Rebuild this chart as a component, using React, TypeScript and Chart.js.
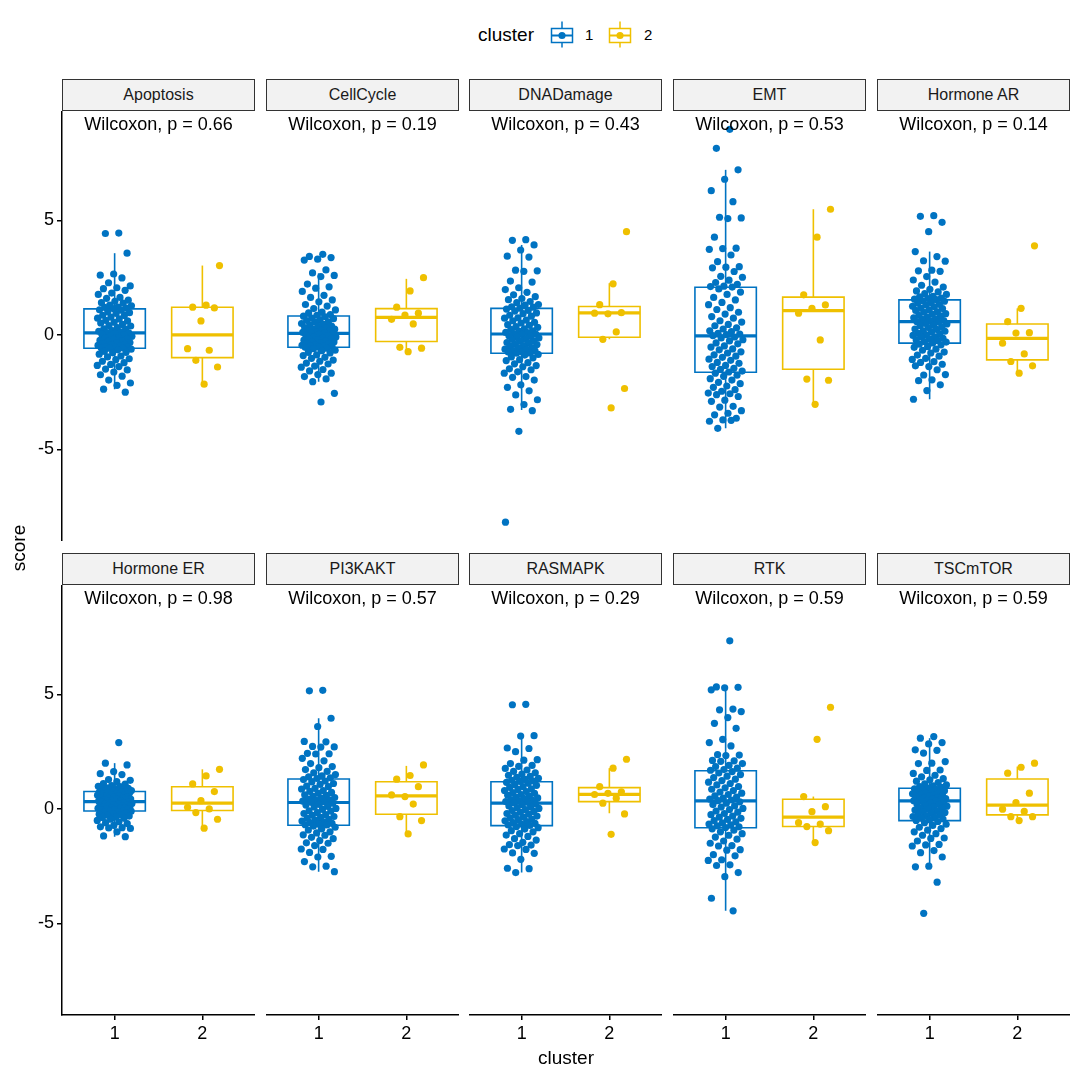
import React, { useEffect, useRef } from "react";
import { Chart, registerables } from "chart.js";

Chart.register(...registerables);

// ---------------- data ----------------
const PANELS = ["Apoptosis", "CellCycle", "DNADamage", "EMT", "Hormone AR", "Hormone ER", "PI3KAKT", "RASMAPK", "RTK", "TSCmTOR"];
const P_VALUES = ["0.66", "0.19", "0.43", "0.53", "0.14", "0.98", "0.57", "0.29", "0.59", "0.59"];
const CLUSTERS = ["1", "2"];
const X_TICKS = [1, 2];
const Y_TICKS = [-5, 0, 5];

const C1_APOPTOSIS = [4.45, 4.43, 3.57, 2.66, 2.61, 2.49, 2.28, 2.14, 2.06, 2.02, 1.95, 1.83, 1.77, 1.64, 1.6, 1.52, 1.47, 1.41, 1.39, 1.3, 1.27, 1.22, 1.2, 1.17, 1.15,
  1.1, 1.08, 1.01, 0.97, 0.94, 0.86, 0.85, 0.78, 0.73, 0.7, 0.64, 0.61, 0.55, 0.52, 0.46, 0.41, 0.39, 0.32, 0.27, 0.25, 0.19, 0.16, 0.13, 0.1, 0.09,
  0.07, 0.02, 0.0, -0.05, -0.06, -0.12, -0.14, -0.17, -0.19, -0.24, -0.27, -0.28, -0.33, -0.34, -0.38, -0.41, -0.44, -0.46, -0.47, -0.51, -0.53, -0.54, -0.56, -0.57, -0.58,
  -0.62, -0.65, -0.72, -0.76, -0.78, -0.84, -0.92, -0.96, -1.04, -1.08, -1.15, -1.21, -1.29, -1.33, -1.38, -1.49, -1.53, -1.62, -1.74, -1.8, -1.97, -2.1, -2.2, -2.37, -2.5];
const C1_CELLCYCLE = [3.52, 3.43, 3.38, 3.31, 3.27, 2.84, 2.71, 2.6, 2.55, 2.22, 2.1, 2.04, 1.9, 1.73, 1.64, 1.53, 1.45, 1.33, 1.26, 1.15, 1.09, 1.0, 0.96, 0.89, 0.86,
  0.82, 0.79, 0.73, 0.71, 0.65, 0.63, 0.57, 0.56, 0.5, 0.46, 0.44, 0.39, 0.37, 0.32, 0.31, 0.26, 0.25, 0.2, 0.18, 0.17, 0.12, 0.11, 0.08, 0.07,
  0.04, 0.03, -0.02, -0.03, -0.08, -0.09, -0.13, -0.16, -0.17, -0.22, -0.23, -0.27, -0.3, -0.31, -0.36, -0.38, -0.39, -0.43, -0.45, -0.47, -0.49, -0.51, -0.53, -0.54,
  -0.58, -0.6, -0.67, -0.69, -0.76, -0.79, -0.87, -0.9, -0.98, -1.02, -1.1, -1.15, -1.23, -1.27, -1.36, -1.41, -1.51, -1.57, -1.67, -1.73, -1.82, -1.92, -2.04, -2.55, -2.93];
const C1_DNADAMAGE = [4.16, 4.13, 3.93, 3.71, 3.44, 3.4, 2.83, 2.8, 2.78, 2.35, 2.31, 2.06, 1.98, 1.86, 1.75, 1.67, 1.59, 1.54, 1.46, 1.41, 1.33, 1.3, 1.23, 1.21, 1.17,
  1.13, 1.07, 1.04, 0.96, 0.93, 0.86, 0.82, 0.75, 0.73, 0.65, 0.62, 0.55, 0.52, 0.45, 0.42, 0.36, 0.33, 0.27, 0.24, 0.18, 0.16, 0.11, 0.1, 0.06, 0.04,
  0.02, -0.04, -0.06, -0.11, -0.13, -0.19, -0.2, -0.26, -0.28, -0.33, -0.35, -0.41, -0.42, -0.48, -0.49, -0.55, -0.56, -0.62, -0.63, -0.68, -0.69, -0.74, -0.75, -0.79, -0.8,
  -0.85, -0.88, -0.96, -1.0, -1.08, -1.12, -1.21, -1.26, -1.34, -1.39, -1.48, -1.52, -1.61, -1.67, -1.82, -1.85, -1.97, -2.18, -2.29, -2.44, -2.62, -2.83, -3.04, -3.25, -3.31, -4.21, -8.18];
const C1_EMT = [8.98, 8.15, 7.21, 6.8, 6.3, 5.82, 5.14, 5.11, 5.08, 4.27, 3.79, 3.77, 3.74, 3.49, 3.2, 2.98, 2.96, 2.93, 2.77, 2.56, 2.52, 2.39, 2.29, 2.21, 2.13, 2.11, 2.09,
  2.01, 1.87, 1.77, 1.64, 1.53, 1.42, 1.32, 1.19, 1.11, 0.99, 0.91, 0.8, 0.73, 0.62, 0.56, 0.46, 0.4, 0.31, 0.26, 0.18, 0.14, 0.07, 0.04, 0.01, -0.03,
  -0.09, -0.13, -0.21, -0.26, -0.35, -0.39, -0.48, -0.53, -0.61, -0.65, -0.74, -0.79, -0.87, -0.93, -0.98, -1.06, -1.11, -1.2, -1.24, -1.33, -1.38, -1.46, -1.5, -1.58, -1.62,
  -1.67, -1.76, -1.81, -1.91, -1.97, -2.07, -2.13, -2.23, -2.29, -2.39, -2.46, -2.54, -2.57, -2.61, -2.69, -2.85, -2.9, -3.12, -3.15, -3.31, -3.42, -3.49, -3.64, -3.71, -3.77, -3.73, -4.08];
const C1_HORMONE_AR = [5.21, 5.18, 4.92, 4.51, 3.64, 3.42, 3.24, 3.22, 2.83, 2.8, 2.78, 2.55, 2.4, 2.31, 2.17, 2.09, 1.99, 1.92, 1.88, 1.8, 1.77, 1.69, 1.66, 1.61, 1.59, 1.56, 1.54,
  1.49, 1.47, 1.41, 1.39, 1.33, 1.31, 1.25, 1.23, 1.17, 1.15, 1.09, 1.07, 1.01, 0.99, 0.93, 0.91, 0.86, 0.83, 0.77, 0.75, 0.7, 0.68, 0.63, 0.61, 0.58,
  0.56, 0.5, 0.48, 0.42, 0.4, 0.34, 0.32, 0.26, 0.24, 0.18, 0.16, 0.13, 0.07, 0.05, 0.0, -0.02, -0.08, -0.09, -0.15, -0.17, -0.22, -0.24, -0.29, -0.31, -0.35,
  -0.4, -0.43, -0.51, -0.54, -0.62, -0.67, -0.75, -0.79, -0.88, -0.93, -1.02, -1.07, -1.17, -1.2, -1.28, -1.38, -1.35, -1.52, -1.75, -1.73, -1.96, -2.0, -2.18, -2.43, -2.81];
const C1_HORMONE_ER = [2.9, 2.0, 1.92, 1.63, 1.54, 1.5, 1.28, 1.25, 1.19, 1.11, 1.08, 1.02, 0.99, 0.97, 0.92, 0.9, 0.89, 0.85, 0.84, 0.82, 0.8, 0.79, 0.78, 0.77, 0.77,
  0.75, 0.73, 0.71, 0.7, 0.67, 0.66, 0.63, 0.61, 0.6, 0.57, 0.56, 0.53, 0.51, 0.5, 0.47, 0.46, 0.43, 0.42, 0.4, 0.38, 0.37, 0.35, 0.34, 0.33, 0.32,
  0.31, 0.29, 0.27, 0.26, 0.24, 0.22, 0.21, 0.19, 0.18, 0.16, 0.14, 0.13, 0.11, 0.09, 0.08, 0.06, 0.05, 0.03, 0.02, 0.0, -0.01, -0.03, -0.05, -0.07, -0.08,
  -0.1, -0.12, -0.15, -0.17, -0.2, -0.23, -0.25, -0.28, -0.31, -0.35, -0.37, -0.41, -0.45, -0.5, -0.56, -0.6, -0.64, -0.72, -0.78, -0.82, -0.83, -0.85, -1.0, -1.18, -1.21];
const C1_PI3KAKT = [5.18, 5.16, 3.96, 3.6, 2.95, 2.93, 2.73, 2.71, 2.7, 2.43, 2.41, 2.4, 2.21, 2.1, 1.98, 1.85, 1.8, 1.72, 1.64, 1.58, 1.5, 1.45, 1.4, 1.36, 1.33,
  1.28, 1.22, 1.18, 1.11, 1.07, 1.0, 0.97, 0.9, 0.87, 0.8, 0.77, 0.72, 0.68, 0.62, 0.59, 0.55, 0.5, 0.47, 0.43, 0.4, 0.37, 0.34, 0.31, 0.29,
  0.25, 0.2, 0.17, 0.11, 0.08, 0.02, -0.02, -0.08, -0.1, -0.16, -0.2, -0.25, -0.28, -0.33, -0.37, -0.41, -0.45, -0.49, -0.53, -0.56, -0.6, -0.63, -0.66, -0.69, -0.7,
  -0.75, -0.8, -0.87, -0.92, -1.0, -1.05, -1.13, -1.15, -1.24, -1.3, -1.38, -1.48, -1.5, -1.6, -1.75, -1.77, -1.9, -2.07, -2.1, -2.3, -2.5, -2.53, -2.74];
const C1_RASMAPK = [4.57, 4.55, 3.2, 3.18, 2.66, 2.64, 2.5, 2.15, 2.13, 1.98, 1.9, 1.86, 1.77, 1.7, 1.64, 1.58, 1.52, 1.47, 1.42, 1.38, 1.34, 1.29, 1.25, 1.22, 1.2,
  1.16, 1.12, 1.06, 1.03, 0.97, 0.94, 0.88, 0.85, 0.8, 0.76, 0.71, 0.68, 0.63, 0.6, 0.56, 0.52, 0.48, 0.45, 0.41, 0.38, 0.35, 0.32, 0.29, 0.26,
  0.22, 0.18, 0.13, 0.1, 0.05, 0.02, -0.03, -0.07, -0.11, -0.15, -0.2, -0.23, -0.28, -0.31, -0.36, -0.39, -0.44, -0.47, -0.52, -0.55, -0.6, -0.63, -0.67, -0.7, -0.72,
  -0.77, -0.82, -0.88, -0.95, -1.0, -1.08, -1.14, -1.2, -1.3, -1.36, -1.46, -1.56, -1.58, -1.6, -1.75, -1.77, -1.92, -1.94, -2.2, -2.59, -2.61, -2.78];
const C1_RTK = [7.34, 5.33, 5.31, 5.29, 5.2, 4.36, 4.33, 4.25, 3.99, 3.74, 3.52, 3.04, 2.9, 2.75, 2.37, 2.35, 2.33, 2.12, 2.1, 2.08, 1.98, 1.9, 1.85, 1.78, 1.72, 1.69,
  1.63, 1.57, 1.5, 1.43, 1.37, 1.3, 1.24, 1.17, 1.11, 1.05, 0.98, 0.92, 0.86, 0.8, 0.74, 0.69, 0.63, 0.57, 0.52, 0.47, 0.43, 0.39, 0.36,
  0.31, 0.25, 0.19, 0.13, 0.08, 0.02, -0.03, -0.09, -0.14, -0.2, -0.25, -0.31, -0.36, -0.41, -0.46, -0.51, -0.56, -0.61, -0.66, -0.7, -0.74, -0.78, -0.81,
  -0.87, -0.93, -1.0, -1.08, -1.15, -1.23, -1.32, -1.4, -1.5, -1.6, -1.62, -1.78, -1.8, -2.0, -2.05, -2.22, -2.25, -2.44, -2.47, -2.78, -2.96, -3.9, -4.45];
const C1_TSCMTOR = [3.16, 3.09, 2.9, 2.84, 2.58, 2.56, 2.44, 2.07, 2.0, 1.98, 1.7, 1.68, 1.55, 1.47, 1.4, 1.32, 1.27, 1.21, 1.15, 1.1, 1.05, 1.01, 0.97, 0.94, 0.91,
  0.88, 0.85, 0.82, 0.79, 0.77, 0.74, 0.71, 0.68, 0.66, 0.63, 0.6, 0.58, 0.55, 0.53, 0.5, 0.48, 0.45, 0.43, 0.41, 0.39, 0.37, 0.36, 0.35,
  0.32, 0.29, 0.26, 0.22, 0.19, 0.15, 0.12, 0.08, 0.05, 0.02, -0.02, -0.05, -0.09, -0.12, -0.16, -0.19, -0.23, -0.26, -0.3, -0.33, -0.37, -0.4, -0.44, -0.47, -0.5,
  -0.55, -0.6, -0.67, -0.72, -0.8, -0.86, -0.93, -1.0, -1.08, -1.15, -1.27, -1.29, -1.4, -1.55, -1.57, -1.62, -1.82, -1.91, -2.1, -2.5, -2.53, -3.2, -4.56];

const C2_APOPTOSIS = [3.03, 1.3, 1.21, 1.18, 0.61, -0.6, -0.67, -1.11, -1.4, -2.15];
const C2_CELLCYCLE = [2.5, 1.92, 1.21, 0.95, 0.87, 0.68, 0.48, -0.54, -0.58, -0.73];
const C2_DNADAMAGE = [4.51, 2.23, 1.32, 0.97, 0.92, 0.95, 0.13, -0.19, -2.34, -3.19];
const C2_EMT = [5.49, 4.27, 1.75, 1.31, 1.16, 0.95, -0.22, -1.93, -1.98, -3.03];
const C2_HORMONE_AR = [3.89, 1.16, 0.58, 0.1, 0.08, -0.36, -0.83, -1.16, -1.35, -1.67];
const C2_HORMONE_ER = [1.73, 1.44, 1.09, 0.76, 0.36, 0.07, 0.0, -0.16, -0.45, -0.84];
const C2_PI3KAKT = [1.92, 1.46, 1.3, 0.97, 0.54, 0.61, 0.21, -0.34, -0.51, -1.09];
const C2_RASMAPK = [2.17, 1.78, 0.97, 0.75, 0.68, 0.63, 0.47, 0.25, -0.22, -1.11];
const C2_RTK = [4.44, 3.04, 0.54, 0.1, -0.12, -0.6, -0.66, -0.77, -0.95, -1.47];
const C2_TSCMTOR = [2.0, 1.82, 1.56, 0.69, 0.28, -0.01, -0.11, -0.34, -0.34, -0.51];

// box statistics per panel (lower whisker, Q1, median, Q3, upper whisker)
const BOX1_LO = [-2.37, -2.04, -3.28, -4.08, -2.81, -1.21, -2.74, -2.78, -4.45, -2.52];
const BOX1_Q1 = [-0.58, -0.54, -0.8, -1.63, -0.36, -0.09, -0.71, -0.73, -0.82, -0.51];
const BOX1_MED = [0.09, 0.07, 0.04, -0.04, 0.58, 0.32, 0.28, 0.25, 0.35, 0.35];
const BOX1_Q3 = [1.14, 0.83, 1.16, 2.08, 1.53, 0.76, 1.31, 1.19, 1.67, 0.9];
const BOX1_HI = [3.57, 2.69, 3.93, 7.21, 3.64, 2.0, 3.96, 3.19, 5.31, 3.09];
const BOX2_LO = [-2.15, -0.73, -0.19, -3.01, -1.64, -0.84, -1.09, -0.19, -1.47, -0.51];
const BOX2_Q1 = [-0.99, -0.29, -0.1, -1.5, -1.09, -0.07, -0.23, 0.32, -0.77, -0.26];
const BOX2_MED = [0.0, 0.77, 0.96, 1.06, -0.15, 0.25, 0.57, 0.64, -0.36, 0.17];
const BOX2_Q3 = [1.21, 1.15, 1.24, 1.65, 0.48, 0.97, 1.19, 0.93, 0.42, 1.31];
const BOX2_HI = [3.03, 2.45, 2.26, 5.49, 1.16, 1.73, 1.88, 1.78, 0.54, 1.85];

const CLUSTER1 = [C1_APOPTOSIS, C1_CELLCYCLE, C1_DNADAMAGE, C1_EMT, C1_HORMONE_AR, C1_HORMONE_ER, C1_PI3KAKT, C1_RASMAPK, C1_RTK, C1_TSCMTOR];
const CLUSTER2 = [C2_APOPTOSIS, C2_CELLCYCLE, C2_DNADAMAGE, C2_EMT, C2_HORMONE_AR, C2_HORMONE_ER, C2_PI3KAKT, C2_RASMAPK, C2_RTK, C2_TSCMTOR];

// ---------------- style / layout ----------------
const COLORS = ["#0073C2", "#EFC000"];
const FONT = "'Liberation Sans', Arial, Helvetica, sans-serif";
const X_MIN = 0.4, X_MAX = 2.6, Y_MIN = -9.0, Y_MAX = 9.78;
const BOX_HALF = 0.35;
const JITTER = 0.2;
const COL_LEFT = [62, 266, 469, 673, 877];
const PANEL_W = 193;
const ROW_TOP = [111, 585];
const PANEL_H = 430;
const STRIP_H = 32;
const X_AXIS_H = 45;

// deterministic, evenly spread horizontal jitter (golden-ratio sequence) - position only
const jitter = (i: number, k: number) => ((((i + 1) * 0.6180339887 + k * 0.37) % 1) - 0.5) * 2 * JITTER;

function Panel({ index }: { index: number }) {
  const ref = useRef<HTMLCanvasElement | null>(null);
  const r = Math.floor(index / 5);
  const c = index % 5;
  const showX = r === 1;
  const showY = c === 0;
  const left = showY ? 0 : COL_LEFT[c];
  const width = COL_LEFT[c] + PANEL_W - left;
  const height = PANEL_H + (showX ? X_AXIS_H : 0);

  useEffect(() => {
    if (!ref.current) return;
    const stats = [
      [BOX1_LO[index], BOX1_Q1[index], BOX1_MED[index], BOX1_Q3[index], BOX1_HI[index]],
      [BOX2_LO[index], BOX2_Q1[index], BOX2_MED[index], BOX2_Q3[index], BOX2_HI[index]],
    ];
    const series = [CLUSTER1[index], CLUSTER2[index]];
    const datasets: any[] = [];
    [0, 1].forEach((k) => {
      const xc = X_TICKS[k];
      const col = COLORS[k];
      const [lo, q1, md, q3, hi] = stats[k];
      datasets.push({
        label: "cluster " + CLUSTERS[k],
        data: series[k].map((v, i) => ({ x: xc + jitter(i, k), y: v })),
        pointRadius: 3.6,
        pointBackgroundColor: col,
        pointBorderWidth: 0,
        pointBorderColor: col,
        showLine: false,
        order: 0,
      });
      const line = (data: any[], w: number) => ({
        data,
        showLine: true,
        borderColor: col,
        borderWidth: w,
        pointRadius: 0,
        fill: false,
        tension: 0,
        borderCapStyle: "square",
        borderJoinStyle: "miter",
        order: 1,
      });
      datasets.push(line([
        { x: xc - BOX_HALF, y: q1 }, { x: xc + BOX_HALF, y: q1 }, { x: xc + BOX_HALF, y: q3 },
        { x: xc - BOX_HALF, y: q3 }, { x: xc - BOX_HALF, y: q1 },
      ], 1.6));
      datasets.push({ ...line([{ x: xc - BOX_HALF, y: md }, { x: xc + BOX_HALF, y: md }], 3.2), borderCapStyle: "butt" });
      datasets.push({ ...line([{ x: xc, y: q3 }, { x: xc, y: hi }], 1.6), borderCapStyle: "butt" });
      datasets.push({ ...line([{ x: xc, y: q1 }, { x: xc, y: lo }], 1.6), borderCapStyle: "butt" });
    });

    const axisColor = "#000";
    const chart = new Chart(ref.current, {
      type: "scatter",
      data: { datasets },
      options: {
        animation: false,
        responsive: false,
        events: [],
        layout: { padding: 0, autoPadding: false },
        plugins: { legend: { display: false }, tooltip: { enabled: false }, title: { display: false } },
        scales: {
          x: {
            type: "linear",
            min: X_MIN,
            max: X_MAX,
            display: showX,
            afterBuildTicks: (s: any) => { s.ticks = X_TICKS.map((v) => ({ value: v })); },
            afterFit: (s: any) => {
              s.paddingLeft = 0; s.paddingRight = 0; s.paddingTop = 0; s.paddingBottom = 0;
              if (showX) s.height = X_AXIS_H; else s.height = 0;
            },
            grid: { display: true, drawOnChartArea: false, drawTicks: true, tickLength: 5, color: axisColor, lineWidth: 1.5 },
            border: { display: true, color: axisColor, width: 1.5 },
            ticks: { color: "#000", font: { family: FONT, size: 18 }, padding: 3, autoSkip: false, maxRotation: 0, callback: (v: any) => String(v) },
          },
          y: {
            type: "linear",
            min: Y_MIN,
            max: Y_MAX,
            display: showY,
            afterBuildTicks: (s: any) => { s.ticks = Y_TICKS.map((v) => ({ value: v })); },
            afterFit: (s: any) => {
              s.paddingTop = 0; s.paddingBottom = 0; s.paddingLeft = 0; s.paddingRight = 0;
              if (showY) s.width = COL_LEFT[0]; else s.width = 0;
            },
            grid: { display: true, drawOnChartArea: false, drawTicks: true, tickLength: 5, color: axisColor, lineWidth: 1.5 },
            border: { display: true, color: axisColor, width: 1.5 },
            ticks: { color: "#000", font: { family: FONT, size: 18 }, padding: 3, autoSkip: false, callback: (v: any) => String(v) },
          },
        },
      } as any,
    });
    return () => chart.destroy();
  }, [index]);

  return (
    <canvas
      ref={ref}
      width={width}
      height={height}
      style={{ position: "absolute", left, top: ROW_TOP[r], width, height, display: "block" }}
    />
  );
}

function LegendKey({ color, left }: { color: string; left: number }) {
  return (
    <svg width={28} height={32} style={{ position: "absolute", left, top: 19 }}>
      <line x1={14} y1={2.5} x2={14} y2={28.5} stroke={color} strokeWidth={1.5} />
      <rect x={3.5} y={9.5} width={21} height={14} fill="#fff" stroke={color} strokeWidth={1.5} />
      <line x1={3.5} y1={16.5} x2={24.5} y2={16.5} stroke={color} strokeWidth={2} />
      <circle cx={14} cy={16.5} r={3.6} fill={color} />
    </svg>
  );
}

export default function App() {
  return (
    <div style={{ position: "absolute", left: 0, top: 0, width: 1080, height: 1080, background: "#fff", fontFamily: FONT, color: "#000", overflow: "hidden" }}>
      {/* legend */}
      <div style={{ position: "absolute", left: 478, top: 23, height: 24, lineHeight: "24px", fontSize: 19 }}>cluster</div>
      <LegendKey color={COLORS[0]} left={548} />
      <div style={{ position: "absolute", left: 585, top: 25, height: 20, lineHeight: "20px", fontSize: 15 }}>{CLUSTERS[0]}</div>
      <LegendKey color={COLORS[1]} left={606} />
      <div style={{ position: "absolute", left: 644, top: 25, height: 20, lineHeight: "20px", fontSize: 15 }}>{CLUSTERS[1]}</div>

      {PANELS.map((name, i) => {
        const r = Math.floor(i / 5);
        const c = i % 5;
        return (
          <React.Fragment key={name}>
            <div style={{
              position: "absolute", left: COL_LEFT[c], top: ROW_TOP[r] - STRIP_H, width: PANEL_W, height: STRIP_H,
              boxSizing: "border-box", border: "1px solid #333", background: "#F2F2F2",
              textAlign: "center", lineHeight: STRIP_H - 2 + "px", fontSize: 16, color: "#1A1A1A", whiteSpace: "nowrap",
            }}>{name}</div>
            <Panel index={i} />
            <div style={{
              position: "absolute", left: COL_LEFT[c], top: ROW_TOP[r] + 2, width: PANEL_W, height: 22,
              lineHeight: "22px", textAlign: "center", fontSize: 18, whiteSpace: "nowrap",
            }}>{"Wilcoxon, p = " + P_VALUES[i]}</div>
          </React.Fragment>
        );
      })}

      {/* axis titles */}
      <div style={{ position: "absolute", left: 466, top: 1046, width: 200, height: 24, lineHeight: "24px", textAlign: "center", fontSize: 19 }}>cluster</div>
      <div style={{ position: "absolute", left: 19 - 50, top: 548 - 12, width: 100, height: 24, lineHeight: "24px", textAlign: "center", fontSize: 19, transform: "rotate(-90deg)" }}>score</div>
    </div>
  );
}
